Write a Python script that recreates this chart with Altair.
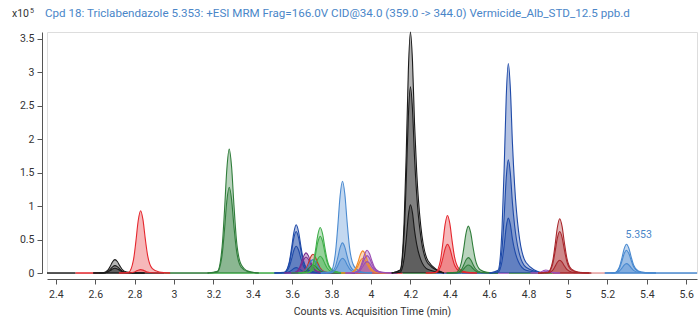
import altair as alt
import pandas as pd

# ---------------- data (intensity in units of 1e5 counts, time in min) ----------------
X_TICKS = [2.4, 2.6, 2.8, 3.0, 3.2, 3.4, 3.6, 3.8, 4.0, 4.2, 4.4, 4.6, 4.8, 5.0, 5.2, 5.4, 5.6]
Y_TICKS = [0, 0.5, 1, 1.5, 2, 2.5, 3, 3.5]

K1_T = [2.59, 2.64, 2.664, 2.676, 2.688, 2.70, 2.712, 2.724, 2.736, 2.76, 2.795, 2.85]
K1_V = [[0, 0.003, 0.042, 0.10, 0.168, 0.20, 0.172, 0.11, 0.056, 0.014, 0.003, 0],
        [0, 0.001, 0.023, 0.055, 0.092, 0.11, 0.095, 0.06, 0.031, 0.008, 0.002, 0],
        [0, 0.001, 0.015, 0.035, 0.059, 0.07, 0.06, 0.039, 0.02, 0.005, 0.001, 0]]

R1_T = [2.72, 2.77, 2.794, 2.806, 2.818, 2.83, 2.842, 2.854, 2.866, 2.89, 2.925, 2.98]
R1_V = [[0, 0.012, 0.195, 0.465, 0.78, 0.93, 0.80, 0.51, 0.26, 0.065, 0.014, 0],
        [0, 0.001, 0.01, 0.025, 0.042, 0.05, 0.043, 0.028, 0.014, 0.004, 0.001, 0]]

G1_T = [3.17, 3.22, 3.244, 3.256, 3.268, 3.28, 3.292, 3.304, 3.316, 3.34, 3.375, 3.43]
G1_V = [[0, 0.024, 0.39, 0.925, 1.55, 1.85, 1.59, 1.02, 0.52, 0.13, 0.028, 0],
        [0, 0.017, 0.27, 0.64, 1.075, 1.28, 1.10, 0.70, 0.36, 0.09, 0.019, 0]]

B1_T = [3.51, 3.56, 3.584, 3.596, 3.608, 3.62, 3.632, 3.644, 3.656, 3.68, 3.715, 3.77]
B1_V = [[0, 0.009, 0.15, 0.36, 0.60, 0.72, 0.62, 0.40, 0.20, 0.05, 0.011, 0],
        [0, 0.008, 0.13, 0.31, 0.52, 0.62, 0.53, 0.34, 0.17, 0.043, 0.009, 0],
        [0, 0.005, 0.084, 0.20, 0.336, 0.40, 0.344, 0.22, 0.112, 0.028, 0.006, 0],
        [0, 0.001, 0.017, 0.04, 0.067, 0.08, 0.069, 0.044, 0.022, 0.006, 0.001, 0]]

P1_T = [3.56, 3.61, 3.634, 3.646, 3.658, 3.67, 3.682, 3.694, 3.706, 3.73, 3.765, 3.82]
P1_V = [[0, 0.004, 0.063, 0.15, 0.252, 0.30, 0.258, 0.165, 0.084, 0.021, 0.005, 0],
        [0, 0.003, 0.05, 0.12, 0.20, 0.24, 0.206, 0.132, 0.067, 0.017, 0.004, 0]]

M1_T = [3.595, 3.645, 3.669, 3.681, 3.693, 3.705, 3.717, 3.729, 3.741, 3.765, 3.80, 3.855]
BR1_V = [[0, 0.004, 0.059, 0.14, 0.235, 0.28, 0.24, 0.154, 0.078, 0.02, 0.004, 0]]
TE1_V = [[0, 0.003, 0.042, 0.10, 0.168, 0.20, 0.172, 0.11, 0.056, 0.014, 0.003, 0]]
DG1_V = [[0, 0.002, 0.025, 0.06, 0.10, 0.12, 0.103, 0.066, 0.034, 0.008, 0.002, 0]]

G2_T = [3.632, 3.682, 3.706, 3.718, 3.730, 3.742, 3.754, 3.766, 3.778, 3.802, 3.837, 3.892]
G2_V = [[0, 0.009, 0.143, 0.34, 0.57, 0.68, 0.585, 0.374, 0.19, 0.048, 0.01, 0],
        [0, 0.007, 0.116, 0.275, 0.46, 0.55, 0.473, 0.30, 0.154, 0.039, 0.008, 0],
        [0, 0.003, 0.053, 0.125, 0.21, 0.25, 0.215, 0.138, 0.07, 0.018, 0.004, 0]]

L1_T = [3.745, 3.795, 3.819, 3.831, 3.843, 3.855, 3.867, 3.879, 3.891, 3.915, 3.95, 4.005]
L1_V = [[0, 0.018, 0.29, 0.685, 1.15, 1.37, 1.18, 0.75, 0.38, 0.096, 0.02, 0],
        [0, 0.006, 0.095, 0.225, 0.378, 0.45, 0.387, 0.248, 0.126, 0.032, 0.007, 0],
        [0, 0.003, 0.046, 0.11, 0.185, 0.22, 0.19, 0.121, 0.062, 0.015, 0.003, 0]]

O1_T = [3.848, 3.898, 3.922, 3.934, 3.946, 3.958, 3.970, 3.982, 3.994, 4.018, 4.053, 4.108]
O1_V = [[0, 0.004, 0.069, 0.165, 0.277, 0.33, 0.284, 0.18, 0.092, 0.023, 0.005, 0],
        [0, 0.003, 0.046, 0.11, 0.185, 0.22, 0.19, 0.121, 0.062, 0.015, 0.003, 0]]

P2_T = [3.87, 3.92, 3.944, 3.956, 3.968, 3.98, 3.992, 4.004, 4.016, 4.04, 4.075, 4.13]
P2_V = [[0, 0.004, 0.071, 0.17, 0.286, 0.34, 0.292, 0.187, 0.095, 0.024, 0.005, 0],
        [0, 0.003, 0.055, 0.13, 0.218, 0.26, 0.224, 0.143, 0.073, 0.018, 0.004, 0],
        [0, 0.002, 0.036, 0.085, 0.143, 0.17, 0.146, 0.094, 0.048, 0.012, 0.003, 0]]

K2_T = [4.105, 4.148, 4.168, 4.179, 4.1895, 4.20, 4.2105, 4.221, 4.232, 4.252, 4.29, 4.37]
K2_V = [[0, 0.047, 0.756, 1.80, 3.02, 3.60, 3.17, 2.23, 1.51, 0.72, 0.18, 0],
        [0, 0.036, 0.584, 1.39, 2.335, 2.78, 2.446, 1.724, 1.168, 0.556, 0.139, 0],
        [0, 0.013, 0.214, 0.51, 0.857, 1.02, 0.898, 0.632, 0.428, 0.204, 0.051, 0]]

R2_T = [4.278, 4.328, 4.352, 4.364, 4.376, 4.388, 4.40, 4.412, 4.424, 4.448, 4.483, 4.538]
R2_V = [[0, 0.011, 0.18, 0.43, 0.722, 0.86, 0.74, 0.473, 0.24, 0.06, 0.013, 0],
        [0, 0.006, 0.09, 0.215, 0.361, 0.43, 0.37, 0.237, 0.12, 0.03, 0.006, 0]]

G3_T = [4.384, 4.434, 4.458, 4.47, 4.482, 4.494, 4.506, 4.518, 4.53, 4.554, 4.589, 4.644]
G3_V = [[0, 0.009, 0.147, 0.35, 0.588, 0.70, 0.602, 0.385, 0.196, 0.049, 0.011, 0],
        [0, 0.003, 0.048, 0.115, 0.193, 0.23, 0.198, 0.127, 0.064, 0.016, 0.003, 0],
        [0, 0.002, 0.025, 0.06, 0.10, 0.12, 0.103, 0.066, 0.034, 0.008, 0.002, 0]]

B2_T = [4.602, 4.645, 4.665, 4.676, 4.6865, 4.697, 4.7075, 4.718, 4.729, 4.749, 4.787, 4.867]
B2_V = [[0, 0.041, 0.657, 1.565, 2.63, 3.13, 2.754, 1.94, 1.315, 0.626, 0.157, 0],
        [0, 0.022, 0.355, 0.845, 1.42, 1.69, 1.487, 1.048, 0.71, 0.338, 0.085, 0],
        [0, 0.011, 0.172, 0.41, 0.689, 0.82, 0.722, 0.508, 0.344, 0.164, 0.041, 0]]

P3_T = [4.81, 4.845, 4.866, 4.877, 4.888, 4.899, 4.91, 4.93, 4.96]
P3_V = [[0, 0.002, 0.02, 0.037, 0.045, 0.038, 0.022, 0.005, 0],
        [0, 0.001, 0.009, 0.016, 0.02, 0.017, 0.01, 0.002, 0]]

D1_T = [4.848, 4.898, 4.922, 4.934, 4.946, 4.958, 4.97, 4.982, 4.994, 5.018, 5.053, 5.108]
D1_V = [[0, 0.011, 0.17, 0.405, 0.68, 0.81, 0.697, 0.446, 0.227, 0.057, 0.012, 0],
        [0, 0.008, 0.13, 0.31, 0.52, 0.62, 0.533, 0.341, 0.174, 0.043, 0.009, 0],
        [0, 0.002, 0.04, 0.095, 0.16, 0.19, 0.163, 0.105, 0.053, 0.013, 0.003, 0]]

L2_T = [5.187, 5.237, 5.261, 5.273, 5.285, 5.297, 5.309, 5.321, 5.333, 5.357, 5.392, 5.447]
L2_V = [[0, 0.006, 0.09, 0.215, 0.361, 0.43, 0.37, 0.237, 0.12, 0.03, 0.006, 0],
        [0, 0.004, 0.071, 0.17, 0.286, 0.34, 0.292, 0.187, 0.095, 0.024, 0.005, 0],
        [0, 0.002, 0.029, 0.07, 0.118, 0.14, 0.12, 0.077, 0.039, 0.01, 0.002, 0]]

# baseline segments along zero (boundaries, colours)
BASE_T = [2.355, 2.50, 2.62, 2.95, 3.18, 3.55, 3.62, 3.80, 3.92, 4.10, 4.16, 4.33, 4.46, 4.62, 4.70, 4.88, 4.92, 5.12, 5.22, 5.655]
BASE_C = ["#222222", "#e5262d", "#222222", "#2f7d3a", "#3fae49", "#3a80c8", "#9b4fb4", "#222222", "#c0392b", "#e5262d",
          "#2f7d3a", "#1f4aa8", "#1f4aa8", "#9b4fb4", "#2f7d3a", "#2f7d3a", "#a8262b", "#e9a0a0", "#4a8ad0"]

PEAK_LABEL = "5.353"
PEAK_LABEL_T = 5.297
PEAK_LABEL_V = 0.43

TITLE = "Cpd 18: Triclabendazole 5.353: +ESI MRM Frag=166.0V CID@34.0 (359.0 -> 344.0) Vermicide_Alb_STD_12.5 ppb.d"
X_TITLE = "Counts vs. Acquisition Time (min)"

BLACK, RED, DGREEN, DBLUE = "#1a1a1a", "#e5262d", "#2f7d3a", "#1f4aa8"
PURPLE, BROWN, TEAL, BGREEN = "#7b2d8e", "#c0392b", "#3a80c8", "#3fae49"
LBLUE, ORANGE, MAGENTA, DRED = "#4a8ad0", "#f28c28", "#9b4fb4", "#a8262b"

GROUPS = [
    ("k1", BLACK, K1_T, K1_V), ("r1", RED, R1_T, R1_V), ("g1", DGREEN, G1_T, G1_V),
    ("b1", DBLUE, B1_T, B1_V), ("p1", PURPLE, P1_T, P1_V), ("br1", BROWN, M1_T, BR1_V),
    ("te1", TEAL, M1_T, TE1_V), ("dg1", DGREEN, M1_T, DG1_V), ("g2", BGREEN, G2_T, G2_V),
    ("l1", LBLUE, L1_T, L1_V), ("o1", ORANGE, O1_T, O1_V), ("p2", MAGENTA, P2_T, P2_V),
    ("k2", BLACK, K2_T, K2_V), ("r2", RED, R2_T, R2_V), ("g3", DGREEN, G3_T, G3_V),
    ("b2", DBLUE, B2_T, B2_V), ("p3", MAGENTA, P3_T, P3_V), ("d1", DRED, D1_T, D1_V),
    ("l2", LBLUE, L2_T, L2_V),
]

rows = []
for gid, col, ts, vs_list in GROUPS:
    for i, vs in enumerate(vs_list):
        for t, v in zip(ts, vs):
            rows.append({"trace": f"{gid}_{i}", "t": t, "v": v, "c": col})
df = pd.DataFrame(rows)

base_rows = []
for i, col in enumerate(BASE_C):
    base_rows.append({"seg": i, "t": BASE_T[i], "v": 0, "c": col})
    base_rows.append({"seg": i, "t": BASE_T[i + 1], "v": 0, "c": col})
base_df = pd.DataFrame(base_rows)

FONT = "Roboto"
xs = alt.Scale(domain=[2.355, 5.655], nice=False, zero=False)
ys = alt.Scale(domain=[0, 3.6], nice=False)

x_axis = alt.Axis(values=X_TICKS, format="~g", offset=6, grid=False, labelOverlap=False,
                  domainColor="#555555", tickColor="#555555", tickSize=5,
                  labelColor="#333333", labelFont=FONT, labelFontSize=10.5,
                  labelPadding=5, titleFont=FONT, titleFontSize=10.5,
                  titleFontWeight="normal", titleColor="#333333", titlePadding=7)
y_axis = alt.Axis(values=Y_TICKS, format="~g", offset=5, grid=False, labelOverlap=False,
                  domainColor="#555555", tickColor="#555555", tickSize=5,
                  labelColor="#333333", labelFont=FONT, labelFontSize=10.5,
                  labelPadding=3)

x_enc = alt.X("t:Q", scale=xs, title=X_TITLE, axis=x_axis)
y_enc = alt.Y("v:Q", scale=ys, stack=None, title=None, axis=y_axis)

areas = alt.Chart(df).mark_area(interpolate="monotone", fillOpacity=0.33).encode(
    x=x_enc, y=y_enc, color=alt.Color("c:N", scale=None), detail="trace:N")
lines = alt.Chart(df).mark_line(interpolate="monotone", strokeWidth=1.1).encode(
    x=x_enc, y=y_enc, color=alt.Color("c:N", scale=None), detail="trace:N")
base = alt.Chart(base_df).mark_line(strokeWidth=1.5).encode(
    x=x_enc, y=y_enc, color=alt.Color("c:N", scale=None), detail="seg:N")

lab_df = pd.DataFrame({"t": [PEAK_LABEL_T], "v": [PEAK_LABEL_V], "s": [PEAK_LABEL]})
label = alt.Chart(lab_df).mark_text(align="left", baseline="bottom", dx=-1, dy=-4,
                                    font=FONT, fontSize=10.5, color="#4a86c8").encode(
    x=x_enc, y=y_enc, text="s:N")

hdr_df = pd.DataFrame({"a": ["x10"], "b": ["5"], "c": [TITLE]})
x10 = alt.Chart(hdr_df).mark_text(align="left", baseline="middle", font=FONT, fontSize=10.5,
                                  color="#333333").encode(
    x=alt.value(-35), y=alt.value(-18), text="a:N")
sup = alt.Chart(hdr_df).mark_text(align="left", baseline="middle", font=FONT, fontSize=7,
                                  color="#333333").encode(
    x=alt.value(-17), y=alt.value(-21), text="b:N")
ttl = alt.Chart(hdr_df).mark_text(align="left", baseline="middle", font=FONT, fontSize=11.6,
                                  color="#4a86c8").encode(
    x=alt.value(-2), y=alt.value(-18), text="c:N")

chart = alt.layer(base, areas, lines, label, x10, sup, ttl).properties(
    width=650, height=241,
    padding={"left": 47, "top": 32, "right": 2, "bottom": 50},
    autosize=alt.AutoSizeParams(type="none"),
).configure_view(stroke=None).configure(background="white")

chart.save("out.html", embed_options={"renderer": "svg", "actions": False})
